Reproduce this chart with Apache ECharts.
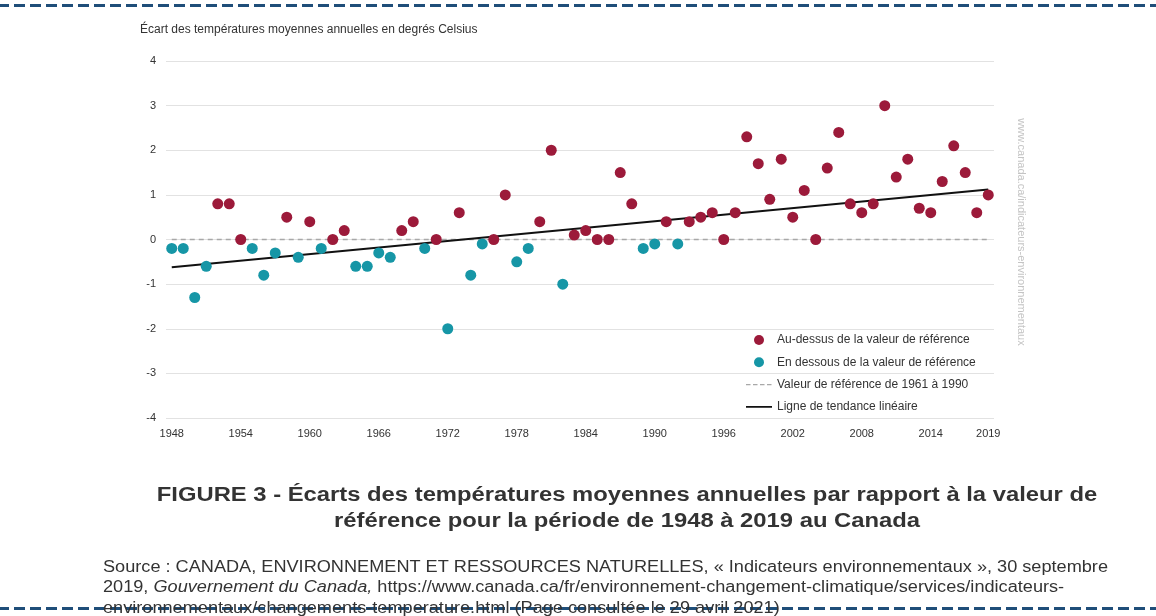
<!DOCTYPE html>
<html><head><meta charset="utf-8">
<script src="https://cdn.jsdelivr.net/npm/echarts@6/dist/echarts.min.js"></script>
<style>html,body{margin:0;padding:0;background:#fff}#c{width:1156px;height:616px}</style>
</head><body><div id="c"></div>
<script>
const years = ['1948','1949','1950','1951','1952','1953','1954','1955','1956','1957','1958','1959',
'1960','1961','1962','1963','1964','1965','1966','1967','1968','1969','1970','1971','1972','1973',
'1974','1975','1976','1977','1978','1979','1980','1981','1982','1983','1984','1985','1986','1987',
'1988','1989','1990','1991','1992','1993','1994','1995','1996','1997','1998','1999','2000','2001',
'2002','2003','2004','2005','2006','2007','2008','2009','2010','2011','2012','2013','2014','2015',
'2016','2017','2018','2019'];
const anomalies = [-0.2,-0.2,-1.3,-0.6,0.8,0.8,0.0,-0.2,-0.8,-0.3,0.5,-0.4,
0.4,-0.2,0.0,0.2,-0.6,-0.6,-0.3,-0.4,0.2,0.4,-0.2,0.0,-2.0,0.6,
-0.8,-0.1,0.0,1.0,-0.5,-0.2,0.4,2.0,-1.0,0.1,0.2,0.0,0.0,1.5,
0.8,-0.2,-0.1,0.4,-0.1,0.4,0.5,0.6,0.0,0.6,2.3,1.7,0.9,1.8,
0.5,1.1,0.0,1.6,2.4,0.8,0.6,0.8,3.0,1.4,1.8,0.7,0.6,1.3,
2.1,1.5,0.6,1.0];
const xTickLabels = ['1948','1954','1960','1966','1972','1978','1984','1990','1996','2002','2008','2014','2019'];
const trendYears = ['1948','2019'];
const trendValues = [-0.62, 1.12];
const referenceYears = ['1948','2019'];
const referenceValues = [0, 0];

const FONT = "'Liberation Sans', Arial, sans-serif";
const RED = '#9c1a3a', TEAL = '#1696a6', REFGRAY = '#a8a8a8', TRENDBLACK = '#111';

const above = [], below = [];
years.forEach((y, i) => { (anomalies[i] >= 0 ? above : below).push([y, anomalies[i]]); });

const solidIcon = 'path://M0,0L26,0Z M0,10L26,10Z M0,4.1h26v1.8h-26z';
const dashedIcon = 'path://M0,0L26,0Z M0,10L26,10Z M0,4.4h4.5v1.2h-4.5z M7,4.4h4.5v1.2h-4.5z M14,4.4h4.5v1.2h-4.5z M21,4.4h4.5v1.2h-4.5z';

const chart = echarts.init(document.getElementById('c'));
chart.setOption({
  animation: false,
  textStyle: { fontFamily: FONT },
  title: { text: 'Écart des températures moyennes annuelles en degrés Celsius', left: 135, top: 19,
    textStyle: { fontSize: 12, fontWeight: 'normal', color: '#333', fontFamily: FONT } },
  grid: { left: 166, right: 162, top: 61, bottom: 198, containLabel: false },
  legend: {
    orient: 'vertical', left: 741, top: 329, itemWidth: 26, itemHeight: 10, itemGap: 10.3,
    textStyle: { fontSize: 12, color: '#333', fontFamily: FONT },
    data: [
      { name: 'Au-dessus de la valeur de référence', icon: 'circle' },
      { name: 'En dessous de la valeur de référence', icon: 'circle' },
      { name: 'Valeur de référence de 1961 à 1990', icon: dashedIcon, itemStyle: { color: REFGRAY, borderWidth: 0 } },
      { name: 'Ligne de tendance linéaire', icon: solidIcon, itemStyle: { color: TRENDBLACK, borderWidth: 0 } }
    ]
  },
  xAxis: {
    type: 'category', data: years, boundaryGap: true,
    axisLine: { show: false }, axisTick: { show: false }, splitLine: { show: false },
    axisLabel: { interval: (i, v) => xTickLabels.includes(v), color: '#333', fontSize: 11, margin: 10, fontFamily: FONT }
  },
  yAxis: {
    type: 'value', min: -4, max: 4, interval: 1,
    axisLine: { show: false }, axisTick: { show: false },
    splitLine: { lineStyle: { color: '#e2e2e2', width: 1 } },
    axisLabel: { color: '#333', fontSize: 11, margin: 10, fontFamily: FONT }
  },
  series: [
    { name: 'Valeur de référence de 1961 à 1990', type: 'line', symbol: 'none', z: 2,
      data: referenceYears.map((y, i) => [y, referenceValues[i]]),
      lineStyle: { color: REFGRAY, width: 1.5, type: [5, 4] }, itemStyle: { color: REFGRAY } },
    { name: 'Ligne de tendance linéaire', type: 'line', symbol: 'none', z: 3,
      data: trendYears.map((y, i) => [y, trendValues[i]]),
      lineStyle: { color: TRENDBLACK, width: 2 }, itemStyle: { color: TRENDBLACK } },
    { name: 'Au-dessus de la valeur de référence', type: 'scatter', symbol: 'circle', symbolSize: 11, z: 4,
      data: above, itemStyle: { color: RED, opacity: 1 } },
    { name: 'En dessous de la valeur de référence', type: 'scatter', symbol: 'circle', symbolSize: 11, z: 4,
      data: below, itemStyle: { color: TEAL, opacity: 1 } }
  ],
  graphic: [
    { type: 'line', silent: true, shape: { x1: 0, y1: 5.5, x2: 1156, y2: 5.5 },
      style: { stroke: '#1f4e79', lineWidth: 3, lineDash: [11, 5], lineDashOffset: 2 } },
    { type: 'line', silent: true, shape: { x1: 0, y1: 608.5, x2: 1156, y2: 608.5 },
      style: { stroke: '#1f4e79', lineWidth: 3, lineDash: [11, 5], lineDashOffset: 2 } },
    { type: 'text', silent: true, x: 1021, y: 232, rotation: -Math.PI / 2,
      style: { text: 'www.canada.ca/indicateurs-environnementaux', fill: '#c4c4c4', font: "11px " + FONT,
        align: 'center', verticalAlign: 'middle', textAlign: 'center', textVerticalAlign: 'middle' } },
    { type: 'text', silent: true, x: 627, y: 495, scaleX: 1.19,
      style: { text: 'FIGURE 3 - Écarts des températures moyennes annuelles par rapport à la valeur de', fill: '#333',
        font: "bold 20px " + FONT, align: 'center', verticalAlign: 'middle', textAlign: 'center', textVerticalAlign: 'middle' } },
    { type: 'text', silent: true, x: 627, y: 521, scaleX: 1.19,
      style: { text: 'référence pour la période de 1948 à 2019 au Canada', fill: '#333',
        font: "bold 20px " + FONT, align: 'center', verticalAlign: 'middle', textAlign: 'center', textVerticalAlign: 'middle' } },
    { type: 'text', silent: true, x: 103, y: 557, z: 10, scaleX: 1.134,
      style: {
        text: 'Source : CANADA, ENVIRONNEMENT ET RESSOURCES NATURELLES, « Indicateurs environnementaux », 30 septembre\n2019, {i|Gouvernement du Canada,} https://www.canada.ca/fr/environnement-changement-climatique/services/indicateurs-\nenvironnementaux/changements-temperature.html (Page consultée le 29 avril 2021)',
        fill: '#333', font: "16px " + FONT, lineHeight: 20.5, align: 'left', verticalAlign: 'top',
        rich: { i: { fontStyle: 'italic', fontSize: 16, fontFamily: FONT, fill: '#333', lineHeight: 20.5 } }
      } }
  ]
});
</script>
</body></html>
